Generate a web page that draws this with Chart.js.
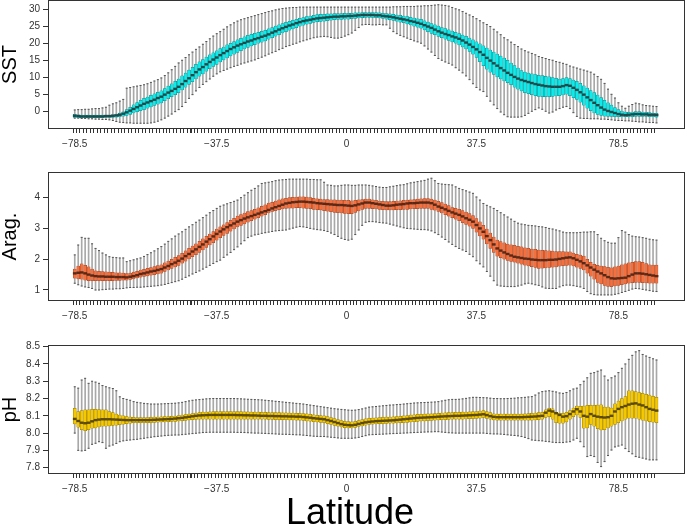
<!DOCTYPE html>
<html>
<head>
<meta charset="utf-8">
<script src="https://cdn.jsdelivr.net/npm/chart.js@4.4.1/dist/chart.umd.min.js"></script>
<style>
  body { margin: 0; background: #fff; }
  #wrap { position: relative; width: 685px; height: 530px; overflow: hidden; }
  canvas { position: absolute; left: 0; }
  #xlab { position: absolute; left: 250px; width: 200px; top: 492px; text-align: center;
          font: 36px 'Liberation Sans', Arial, sans-serif; color: #000; line-height: 40px; }
</style>
</head>
<body>
<div id="wrap">
  <canvas id="sst" width="685" height="172" style="top:0px"></canvas>
  <canvas id="arag" width="685" height="173" style="top:172px"></canvas>
  <canvas id="ph" width="685" height="200" style="top:330px"></canvas>
  <div id="xlab">Latitude</div>
</div>
<script>
/** Boxplots of SST, aragonite saturation and pH by 1-degree latitude band */

const lats = [
  -78.5, -77.5, -76.5, -75.5, -74.5, -73.5, -72.5, -71.5, -70.5, -69.5,
  -68.5, -67.5, -66.5, -65.5, -64.5, -63.5, -62.5, -61.5, -60.5, -59.5,
  -58.5, -57.5, -56.5, -55.5, -54.5, -53.5, -52.5, -51.5, -50.5, -49.5,
  -48.5, -47.5, -46.5, -45.5, -44.5, -43.5, -42.5, -41.5, -40.5, -39.5,
  -38.5, -37.5, -36.5, -35.5, -34.5, -33.5, -32.5, -31.5, -30.5, -29.5,
  -28.5, -27.5, -26.5, -25.5, -24.5, -23.5, -22.5, -21.5, -20.5, -19.5,
  -18.5, -17.5, -16.5, -15.5, -14.5, -13.5, -12.5, -11.5, -10.5, -9.5,
  -8.5, -7.5, -6.5, -5.5, -4.5, -3.5, -2.5, -1.5, -0.5, 0.5,
  1.5, 2.5, 3.5, 4.5, 5.5, 6.5, 7.5, 8.5, 9.5, 10.5,
  11.5, 12.5, 13.5, 14.5, 15.5, 16.5, 17.5, 18.5, 19.5, 20.5,
  21.5, 22.5, 23.5, 24.5, 25.5, 26.5, 27.5, 28.5, 29.5, 30.5,
  31.5, 32.5, 33.5, 34.5, 35.5, 36.5, 37.5, 38.5, 39.5, 40.5,
  41.5, 42.5, 43.5, 44.5, 45.5, 46.5, 47.5, 48.5, 49.5, 50.5,
  51.5, 52.5, 53.5, 54.5, 55.5, 56.5, 57.5, 58.5, 59.5, 60.5,
  61.5, 62.5, 63.5, 64.5, 65.5, 66.5, 67.5, 68.5, 69.5, 70.5,
  71.5, 72.5, 73.5, 74.5, 75.5, 76.5, 77.5, 78.5, 79.5, 80.5,
  81.5, 82.5, 83.5, 84.5, 85.5, 86.5, 87.5, 88.5, 89.5
];
const xTickLabels = [-78.5, -37.5, 0, 37.5, 78.5];

// SST
const sstMin = [
  -2.0, -2.0, -2.1, -2.1, -2.2, -2.2, -2.3, -2.3, -2.4, -2.4,
  -2.5, -2.7, -3.0, -3.2, -3.3, -3.4, -3.4, -3.5, -3.5, -3.5,
  -3.5, -3.5, -3.4, -3.2, -2.9, -2.5, -2.0, -1.4, -0.8, -0.1,
  0.5, 1.4, 2.6, 3.8, 4.9, 6.0, 7.0, 7.9, 8.7, 9.5,
  10.3, 11.0, 11.6, 12.0, 12.4, 12.8, 13.2, 13.5, 13.9, 14.2,
  14.5, 14.8, 15.1, 15.5, 15.9, 16.3, 16.8, 17.2, 17.6, 18.1,
  18.5, 19.0, 19.3, 19.7, 20.0, 20.4, 20.7, 21.0, 21.3, 21.6,
  21.8, 21.9, 22.0, 21.9, 21.7, 21.5, 21.5, 21.7, 22.1, 22.5,
  23.0, 23.8, 24.6, 25.4, 25.5, 25.5, 25.4, 25.4, 25.5, 25.4,
  25.4, 24.4, 23.4, 22.8, 22.3, 21.9, 21.5, 21.1, 20.7, 20.4,
  20.0, 19.2, 18.3, 17.4, 16.4, 15.5, 15.0, 14.5, 14.1, 13.6,
  12.8, 12.1, 11.3, 10.4, 9.3, 8.1, 7.0, 6.3, 5.8, 4.4,
  3.0, 1.9, 0.8, -0.2, -1.0, -1.6, -1.7, -1.7, -1.7, -1.6,
  -1.2, -0.6, 0.0, 0.5, 1.0, 0.6, 0.0, -0.5, -0.2, 0.4,
  0.8, 1.2, 1.4, 0.8, -0.4, -1.5, -2.0, -2.1, -2.1, -2.2,
  -2.2, -2.2, -2.3, -2.3, -2.4, -2.5, -2.6, -2.7, -2.7, -2.8,
  -2.8, -2.9, -3.0, -3.1, -3.1, -3.2, -3.3, -3.3, -3.4
];
const sstQ1 = [
  -1.8, -1.9, -1.9, -1.9, -1.9, -1.9, -1.9, -1.9, -1.9, -1.8,
  -1.8, -1.8, -1.7, -1.6, -1.4, -1.2, -0.9, -0.5, -0.1, 0.2,
  0.5, 0.9, 1.3, 1.7, 2.1, 2.5, 3.1, 3.7, 4.3, 4.9,
  5.5, 6.3, 7.1, 7.9, 8.7, 9.5, 10.3, 11.0, 11.8, 12.5,
  13.2, 13.8, 14.5, 15.1, 15.7, 16.3, 16.8, 17.3, 17.8, 18.3,
  18.8, 19.2, 19.6, 20.0, 20.3, 20.7, 21.2, 21.6, 22.1, 22.5,
  23.0, 23.4, 23.8, 24.2, 24.6, 25.0, 25.3, 25.6, 25.8, 26.1,
  26.3, 26.4, 26.5, 26.6, 26.8, 26.9, 27.0, 27.0, 27.1, 27.1,
  27.2, 27.3, 27.4, 27.5, 27.6, 27.6, 27.6, 27.5, 27.4, 27.3,
  27.1, 26.9, 26.7, 26.5, 26.2, 26.0, 25.7, 25.4, 25.0, 24.7,
  24.4, 23.9, 23.4, 22.9, 22.5, 22.0, 21.6, 21.2, 20.8, 20.4,
  20.0, 19.5, 18.9, 18.3, 17.6, 16.8, 15.8, 14.6, 13.4, 12.4,
  11.5, 10.8, 10.1, 9.5, 8.9, 8.4, 7.8, 7.1, 6.5, 6.0,
  5.5, 5.2, 4.9, 4.6, 4.4, 4.3, 4.3, 4.3, 4.4, 4.5,
  4.6, 4.8, 5.0, 4.6, 4.0, 3.5, 2.7, 1.8, 0.9, 0.2,
  -0.5, -0.9, -1.2, -1.4, -1.5, -1.5, -1.6, -1.6, -1.6, -1.6,
  -1.6, -1.6, -1.5, -1.5, -1.5, -1.5, -1.6, -1.6, -1.7
];
const sstMedian = [
  -1.3, -1.4, -1.5, -1.5, -1.5, -1.5, -1.5, -1.5, -1.5, -1.4,
  -1.4, -1.3, -1.2, -1.0, -0.7, -0.3, 0.2, 0.7, 1.2, 1.7,
  2.2, 2.6, 3.0, 3.4, 3.9, 4.3, 4.9, 5.5, 6.0, 6.6,
  7.2, 8.0, 8.9, 9.7, 10.6, 11.5, 12.3, 13.0, 13.8, 14.5,
  15.2, 15.8, 16.5, 17.1, 17.7, 18.3, 18.8, 19.3, 19.7, 20.1,
  20.5, 20.8, 21.2, 21.5, 21.9, 22.2, 22.6, 23.1, 23.5, 24.0,
  24.4, 24.8, 25.2, 25.5, 25.9, 26.2, 26.5, 26.7, 26.9, 27.1,
  27.3, 27.4, 27.5, 27.6, 27.7, 27.8, 27.8, 27.9, 27.9, 28.0,
  28.0, 28.1, 28.2, 28.3, 28.3, 28.3, 28.3, 28.2, 28.2, 28.0,
  27.9, 27.8, 27.6, 27.4, 27.2, 27.0, 26.8, 26.5, 26.3, 26.0,
  25.7, 25.3, 24.9, 24.5, 24.0, 23.5, 23.1, 22.7, 22.4, 22.0,
  21.7, 21.3, 20.8, 20.2, 19.6, 18.9, 18.2, 17.4, 16.6, 15.7,
  14.9, 14.1, 13.4, 12.7, 12.0, 11.3, 10.7, 10.1, 9.6, 9.2,
  8.9, 8.6, 8.3, 8.0, 7.8, 7.6, 7.4, 7.3, 7.2, 7.2,
  7.2, 7.4, 7.7, 7.5, 6.9, 6.3, 5.6, 4.9, 4.1, 3.3,
  2.5, 1.8, 1.1, 0.5, 0.1, -0.2, -0.5, -0.8, -1.0, -1.1,
  -1.0, -0.9, -0.8, -0.8, -0.9, -0.9, -1.0, -1.0, -1.1
];
const sstQ3 = [
  -0.9, -1.0, -1.1, -1.1, -1.1, -1.1, -1.1, -1.1, -1.1, -1.1,
  -1.1, -1.0, -0.8, -0.5, 0.0, 0.5, 1.2, 1.9, 2.6, 3.2,
  3.8, 4.2, 4.7, 5.1, 5.6, 6.0, 6.7, 7.4, 8.1, 8.8,
  9.5, 10.4, 11.2, 12.1, 12.9, 13.8, 14.5, 15.2, 15.9, 16.6,
  17.2, 17.8, 18.4, 18.9, 19.5, 20.0, 20.5, 21.0, 21.4, 21.9,
  22.3, 22.6, 22.9, 23.2, 23.5, 23.8, 24.2, 24.6, 25.0, 25.4,
  25.8, 26.1, 26.4, 26.7, 27.0, 27.3, 27.5, 27.8, 28.0, 28.2,
  28.4, 28.5, 28.5, 28.6, 28.6, 28.7, 28.7, 28.7, 28.8, 28.8,
  28.8, 28.9, 28.9, 29.0, 29.0, 29.0, 29.0, 29.0, 28.9, 28.8,
  28.7, 28.6, 28.5, 28.3, 28.2, 28.0, 27.8, 27.6, 27.4, 27.2,
  27.0, 26.6, 26.2, 25.8, 25.4, 25.0, 24.6, 24.3, 23.9, 23.6,
  23.2, 22.8, 22.4, 22.0, 21.5, 21.0, 20.4, 19.8, 19.2, 18.6,
  18.0, 17.4, 16.8, 16.2, 15.6, 15.0, 14.2, 13.4, 12.7, 12.0,
  11.5, 11.2, 11.0, 10.8, 10.6, 10.5, 10.3, 10.1, 9.9, 9.7,
  9.5, 9.6, 9.9, 9.6, 9.2, 8.8, 8.2, 7.5, 6.8, 6.1,
  5.5, 4.8, 4.0, 3.2, 2.5, 1.8, 1.1, 0.5, 0.1, -0.2,
  -0.3, -0.2, -0.1, -0.1, -0.2, -0.3, -0.4, -0.5, -0.6
];
const sstMax = [
  0.4, 0.5, 0.5, 0.6, 0.6, 0.7, 0.8, 0.8, 1.0, 1.2,
  1.8, 2.2, 2.5, 3.0, 3.5, 6.8, 7.0, 7.2, 7.4, 7.6,
  7.8, 8.1, 8.5, 8.9, 9.3, 9.8, 10.5, 11.3, 12.2, 13.2,
  14.2, 15.0, 15.8, 16.6, 17.4, 18.2, 18.9, 19.7, 20.5, 21.3,
  22.1, 22.8, 23.4, 24.1, 24.8, 25.4, 26.0, 26.5, 26.9, 27.2,
  27.5, 27.8, 28.1, 28.4, 28.7, 29.0, 29.3, 29.5, 29.8, 30.0,
  30.2, 30.3, 30.4, 30.5, 30.5, 30.6, 30.6, 30.6, 30.6, 30.6,
  30.6, 30.6, 30.6, 30.6, 30.6, 30.6, 30.6, 30.6, 30.6, 30.6,
  30.6, 30.6, 30.6, 30.6, 30.6, 30.6, 30.6, 30.6, 30.6, 30.6,
  30.6, 30.6, 30.7, 30.7, 30.7, 30.8, 30.8, 30.8, 30.8, 30.9,
  30.9, 31.0, 31.0, 31.1, 31.2, 31.3, 31.2, 31.1, 30.9, 30.5,
  30.1, 29.8, 29.3, 28.8, 28.3, 27.8, 27.2, 26.6, 26.0, 25.5,
  24.9, 24.1, 23.3, 22.5, 21.6, 21.0, 20.3, 19.6, 19.0, 18.3,
  17.8, 17.4, 17.0, 16.6, 16.1, 15.8, 15.5, 15.2, 15.0, 14.6,
  14.4, 14.1, 13.8, 13.3, 13.0, 12.7, 12.4, 12.1, 11.8, 11.5,
  10.9, 10.2, 9.4, 8.2, 6.5, 5.0, 3.9, 2.5, 1.5, 0.9,
  1.5, 2.0, 2.4, 2.2, 1.9, 1.7, 1.6, 1.5, 1.4
];

// Aragonite saturation
const aragMin = [
  1.22, 1.17, 1.13, 1.10, 1.08, 1.05, 1.00, 1.00, 1.01, 1.02,
  1.03, 1.03, 1.04, 1.04, 1.05, 1.07, 1.08, 1.08, 1.09, 1.09,
  1.10, 1.11, 1.12, 1.13, 1.14, 1.16, 1.18, 1.21, 1.24, 1.27,
  1.30, 1.35, 1.41, 1.46, 1.52, 1.57, 1.62, 1.68, 1.74, 1.80,
  1.86, 1.92, 1.97, 2.06, 2.14, 2.22, 2.31, 2.40, 2.50, 2.60,
  2.70, 2.75, 2.79, 2.81, 2.84, 2.86, 2.88, 2.90, 2.92, 2.93,
  2.94, 2.95, 2.98, 3.01, 3.04, 3.06, 3.05, 3.03, 3.00, 2.98,
  2.96, 2.95, 2.93, 2.90, 2.85, 2.80, 2.74, 2.68, 2.64, 2.62,
  2.65, 2.80, 2.95, 3.10, 3.20, 3.22, 3.22, 3.21, 3.19, 3.18,
  3.17, 3.14, 3.11, 3.08, 3.05, 3.02, 3.00, 2.99, 2.98, 2.97,
  2.96, 2.96, 2.95, 2.92, 2.86, 2.80, 2.72, 2.64, 2.56, 2.48,
  2.41, 2.35, 2.30, 2.25, 2.16, 2.08, 1.95, 1.85, 1.75, 1.60,
  1.45, 1.30, 1.16, 1.13, 1.12, 1.11, 1.11, 1.11, 1.13, 1.16,
  1.20, 1.22, 1.20, 1.17, 1.15, 1.10, 1.06, 1.05, 1.05, 1.05,
  1.10, 1.14, 1.16, 1.16, 1.14, 1.12, 1.10, 1.05, 0.95, 0.88,
  0.85, 0.84, 0.84, 0.84, 0.84, 0.84, 0.86, 0.88, 0.92, 0.95,
  0.99, 1.03, 1.05, 1.04, 1.02, 1.00, 0.98, 0.96, 0.95
];
const aragQ1 = [
  1.38, 1.36, 1.35, 1.32, 1.30, 1.30, 1.30, 1.30, 1.30, 1.30,
  1.30, 1.30, 1.31, 1.31, 1.32, 1.32, 1.34, 1.36, 1.39, 1.42,
  1.44, 1.46, 1.48, 1.50, 1.52, 1.55, 1.60, 1.65, 1.70, 1.75,
  1.80, 1.87, 1.94, 2.01, 2.08, 2.15, 2.22, 2.30, 2.38, 2.46,
  2.54, 2.62, 2.70, 2.77, 2.84, 2.91, 2.98, 3.05, 3.10, 3.15,
  3.20, 3.25, 3.30, 3.35, 3.40, 3.45, 3.50, 3.55, 3.58, 3.61,
  3.63, 3.65, 3.66, 3.66, 3.67, 3.67, 3.66, 3.65, 3.64, 3.62,
  3.61, 3.60, 3.58, 3.56, 3.54, 3.52, 3.51, 3.50, 3.49, 3.48,
  3.48, 3.52, 3.57, 3.62, 3.65, 3.65, 3.64, 3.63, 3.62, 3.61,
  3.60, 3.60, 3.60, 3.61, 3.61, 3.62, 3.62, 3.63, 3.64, 3.64,
  3.65, 3.65, 3.65, 3.62, 3.59, 3.55, 3.50, 3.45, 3.40, 3.35,
  3.30, 3.25, 3.19, 3.13, 3.07, 3.00, 2.88, 2.76, 2.65, 2.50,
  2.35, 2.22, 2.10, 2.05, 2.00, 1.96, 1.93, 1.90, 1.87, 1.84,
  1.81, 1.78, 1.76, 1.73, 1.70, 1.71, 1.72, 1.73, 1.74, 1.75,
  1.77, 1.79, 1.80, 1.81, 1.78, 1.74, 1.70, 1.65, 1.55, 1.45,
  1.35, 1.25, 1.20, 1.15, 1.12, 1.11, 1.13, 1.15, 1.17, 1.20,
  1.22, 1.24, 1.25, 1.25, 1.24, 1.23, 1.22, 1.22, 1.22
];
const aragMedian = [
  1.54, 1.56, 1.57, 1.54, 1.50, 1.47, 1.45, 1.44, 1.44, 1.43,
  1.43, 1.43, 1.42, 1.42, 1.42, 1.41, 1.43, 1.45, 1.48, 1.52,
  1.54, 1.57, 1.60, 1.62, 1.65, 1.68, 1.73, 1.78, 1.84, 1.89,
  1.95, 2.02, 2.10, 2.17, 2.25, 2.32, 2.40, 2.48, 2.57, 2.65,
  2.74, 2.82, 2.90, 2.97, 3.04, 3.10, 3.16, 3.22, 3.27, 3.32,
  3.36, 3.40, 3.44, 3.48, 3.52, 3.56, 3.60, 3.65, 3.69, 3.73,
  3.77, 3.81, 3.83, 3.85, 3.86, 3.87, 3.87, 3.86, 3.85, 3.84,
  3.82, 3.81, 3.80, 3.79, 3.78, 3.77, 3.76, 3.76, 3.75, 3.74,
  3.73, 3.75, 3.78, 3.81, 3.84, 3.84, 3.82, 3.80, 3.78, 3.76,
  3.74, 3.74, 3.75, 3.77, 3.78, 3.79, 3.81, 3.82, 3.82, 3.83,
  3.84, 3.84, 3.84, 3.82, 3.77, 3.71, 3.67, 3.62, 3.57, 3.52,
  3.48, 3.44, 3.39, 3.33, 3.28, 3.22, 3.11, 3.00, 2.89, 2.75,
  2.62, 2.48, 2.35, 2.28, 2.22, 2.17, 2.12, 2.08, 2.06, 2.04,
  2.02, 2.01, 1.99, 1.98, 1.97, 1.97, 1.97, 1.98, 1.98, 1.99,
  2.01, 2.03, 2.05, 2.06, 2.03, 1.98, 1.93, 1.87, 1.80, 1.73,
  1.66, 1.60, 1.54, 1.48, 1.42, 1.38, 1.37, 1.38, 1.39, 1.40,
  1.45, 1.50, 1.54, 1.54, 1.53, 1.51, 1.49, 1.47, 1.45
];
const aragQ3 = [
  1.68, 1.78, 1.85, 1.80, 1.75, 1.68, 1.62, 1.61, 1.60, 1.59,
  1.58, 1.57, 1.56, 1.56, 1.55, 1.53, 1.55, 1.58, 1.61, 1.65,
  1.67, 1.70, 1.73, 1.76, 1.79, 1.82, 1.88, 1.94, 2.00, 2.06,
  2.12, 2.19, 2.27, 2.35, 2.43, 2.50, 2.58, 2.66, 2.74, 2.82,
  2.90, 2.98, 3.05, 3.12, 3.19, 3.26, 3.33, 3.40, 3.45, 3.50,
  3.55, 3.58, 3.62, 3.67, 3.72, 3.77, 3.82, 3.85, 3.89, 3.93,
  3.96, 3.98, 4.00, 4.01, 4.02, 4.03, 4.03, 4.02, 4.00, 3.98,
  3.96, 3.95, 3.94, 3.94, 3.93, 3.93, 3.92, 3.92, 3.91, 3.91,
  3.90, 3.91, 3.93, 3.94, 3.95, 3.95, 3.93, 3.91, 3.89, 3.88,
  3.87, 3.87, 3.88, 3.89, 3.90, 3.91, 3.92, 3.93, 3.94, 3.95,
  3.96, 3.97, 3.97, 3.95, 3.92, 3.88, 3.84, 3.79, 3.74, 3.68,
  3.65, 3.62, 3.58, 3.53, 3.48, 3.42, 3.32, 3.21, 3.10, 2.98,
  2.85, 2.72, 2.62, 2.57, 2.53, 2.49, 2.47, 2.45, 2.42, 2.40,
  2.37, 2.35, 2.33, 2.32, 2.30, 2.29, 2.28, 2.27, 2.26, 2.25,
  2.25, 2.25, 2.24, 2.24, 2.20, 2.16, 2.13, 2.10, 2.00, 1.90,
  1.83, 1.80, 1.78, 1.76, 1.74, 1.72, 1.75, 1.78, 1.82, 1.85,
  1.88, 1.90, 1.92, 1.92, 1.90, 1.86, 1.82, 1.81, 1.81
];
const aragMax = [
  2.14, 2.46, 2.71, 2.68, 2.68, 2.50, 2.35, 2.28, 2.20, 2.14,
  2.08, 2.06, 2.05, 2.04, 2.04, 1.92, 1.95, 1.98, 2.01, 2.04,
  2.09, 2.15, 2.21, 2.27, 2.34, 2.41, 2.49, 2.58, 2.66, 2.75,
  2.82, 2.89, 2.97, 3.05, 3.12, 3.20, 3.27, 3.35, 3.43, 3.51,
  3.58, 3.65, 3.72, 3.76, 3.80, 3.84, 3.88, 3.92, 4.00, 4.08,
  4.16, 4.24, 4.30, 4.38, 4.46, 4.48, 4.50, 4.52, 4.55, 4.57,
  4.58, 4.59, 4.60, 4.60, 4.60, 4.60, 4.60, 4.60, 4.59, 4.59,
  4.58, 4.58, 4.50, 4.41, 4.40, 4.38, 4.38, 4.40, 4.41, 4.41,
  4.40, 4.40, 4.41, 4.41, 4.41, 4.40, 4.38, 4.36, 4.34, 4.33,
  4.33, 4.35, 4.37, 4.39, 4.41, 4.42, 4.45, 4.48, 4.50, 4.52,
  4.54, 4.56, 4.60, 4.63, 4.55, 4.46, 4.44, 4.43, 4.42, 4.41,
  4.35, 4.30, 4.26, 4.22, 4.18, 4.14, 4.02, 3.92, 3.81, 3.75,
  3.70, 3.65, 3.58, 3.51, 3.44, 3.37, 3.30, 3.23, 3.17, 3.14,
  3.12, 3.10, 3.09, 3.08, 3.06, 3.05, 3.03, 3.00, 2.98, 2.95,
  2.92, 2.88, 2.86, 2.86, 2.86, 2.86, 2.87, 2.88, 2.88, 2.89,
  2.89, 2.80, 2.68, 2.60, 2.55, 2.52, 2.52, 2.70, 2.93, 2.88,
  2.80, 2.75, 2.73, 2.72, 2.70, 2.68, 2.65, 2.63, 2.62
];

// pH
const phMin = [
  8.000, 7.900, 7.897, 7.900, 7.912, 7.935, 7.941, 7.950, 7.945, 7.912,
  7.925, 7.931, 7.940, 7.950, 7.955, 7.958, 7.960, 7.962, 7.964, 7.967,
  7.970, 7.973, 7.976, 7.979, 7.981, 7.983, 7.985, 7.987, 7.988, 7.989,
  7.989, 7.991, 7.993, 7.995, 7.997, 7.999, 8.001, 8.003, 8.004, 8.005,
  8.005, 8.005, 8.005, 8.005, 8.005, 8.005, 8.005, 8.004, 8.004, 8.003,
  8.002, 8.001, 8.000, 8.000, 7.999, 7.998, 7.997, 7.996, 7.995, 7.994,
  7.993, 7.993, 7.992, 7.991, 7.990, 7.990, 7.988, 7.986, 7.984, 7.982,
  7.981, 7.980, 7.980, 7.978, 7.976, 7.974, 7.972, 7.970, 7.970, 7.970,
  7.970, 7.972, 7.975, 7.980, 7.985, 7.990, 7.991, 7.992, 7.993, 7.994,
  7.995, 7.996, 7.997, 7.998, 7.999, 8.000, 8.001, 8.002, 8.003, 8.004,
  8.005, 8.006, 8.007, 8.007, 8.008, 8.008, 8.006, 8.004, 8.002, 8.001,
  8.000, 8.000, 8.000, 8.000, 8.000, 8.000, 8.000, 8.000, 8.000, 7.998,
  7.996, 7.995, 7.995, 7.994, 7.992, 7.990, 7.988, 7.986, 7.984, 7.980,
  7.975, 7.968, 7.960, 7.958, 7.956, 7.955, 7.952, 7.950, 7.947, 7.945,
  7.945, 7.945, 7.948, 7.950, 7.960, 7.970, 7.950, 7.921, 7.864, 7.870,
  7.864, 7.830, 7.806, 7.835, 7.870, 7.902, 7.920, 7.925, 7.931, 7.910,
  7.893, 7.880, 7.864, 7.860, 7.855, 7.850, 7.845, 7.845, 7.845
];
const phQ1 = [
  8.053, 8.034, 8.020, 8.014, 8.020, 8.028, 8.030, 8.035, 8.040, 8.040,
  8.042, 8.044, 8.046, 8.048, 8.052, 8.055, 8.058, 8.060, 8.060, 8.060,
  8.060, 8.060, 8.061, 8.062, 8.063, 8.064, 8.065, 8.066, 8.067, 8.068,
  8.070, 8.072, 8.074, 8.076, 8.078, 8.079, 8.080, 8.080, 8.080, 8.080,
  8.080, 8.080, 8.080, 8.080, 8.080, 8.080, 8.080, 8.080, 8.080, 8.080,
  8.080, 8.080, 8.080, 8.080, 8.080, 8.080, 8.079, 8.079, 8.078, 8.078,
  8.077, 8.077, 8.076, 8.076, 8.075, 8.075, 8.073, 8.071, 8.069, 8.066,
  8.064, 8.062, 8.060, 8.055, 8.050, 8.045, 8.040, 8.035, 8.032, 8.030,
  8.030, 8.033, 8.038, 8.042, 8.046, 8.050, 8.052, 8.053, 8.054, 8.055,
  8.056, 8.057, 8.058, 8.059, 8.060, 8.060, 8.062, 8.064, 8.066, 8.068,
  8.070, 8.071, 8.072, 8.073, 8.075, 8.076, 8.077, 8.078, 8.079, 8.080,
  8.080, 8.080, 8.081, 8.082, 8.083, 8.084, 8.085, 8.087, 8.090, 8.085,
  8.080, 8.076, 8.075, 8.075, 8.075, 8.075, 8.075, 8.075, 8.075, 8.075,
  8.075, 8.075, 8.075, 8.076, 8.078, 8.080, 8.090, 8.095, 8.080, 8.060,
  8.057, 8.057, 8.065, 8.080, 8.095, 8.105, 8.090, 8.028, 8.030, 8.050,
  8.040, 8.025, 8.018, 8.020, 8.030, 8.040, 8.050, 8.060, 8.070, 8.080,
  8.086, 8.086, 8.086, 8.080, 8.075, 8.070, 8.066, 8.063, 8.060
];
const phMedian = [
  8.082, 8.070, 8.060, 8.057, 8.060, 8.068, 8.075, 8.078, 8.080, 8.080,
  8.080, 8.079, 8.078, 8.077, 8.076, 8.075, 8.075, 8.075, 8.075, 8.075,
  8.075, 8.075, 8.076, 8.077, 8.078, 8.079, 8.080, 8.081, 8.082, 8.084,
  8.086, 8.088, 8.091, 8.094, 8.097, 8.100, 8.102, 8.103, 8.104, 8.105,
  8.105, 8.105, 8.105, 8.105, 8.105, 8.105, 8.105, 8.104, 8.104, 8.103,
  8.103, 8.102, 8.102, 8.101, 8.100, 8.100, 8.099, 8.099, 8.098, 8.098,
  8.097, 8.097, 8.096, 8.096, 8.095, 8.095, 8.093, 8.091, 8.089, 8.086,
  8.084, 8.082, 8.080, 8.075, 8.070, 8.064, 8.058, 8.052, 8.048, 8.046,
  8.045, 8.048, 8.053, 8.058, 8.062, 8.065, 8.067, 8.069, 8.070, 8.071,
  8.072, 8.073, 8.074, 8.076, 8.078, 8.080, 8.082, 8.084, 8.086, 8.088,
  8.089, 8.090, 8.091, 8.092, 8.093, 8.095, 8.096, 8.097, 8.098, 8.099,
  8.100, 8.100, 8.101, 8.102, 8.103, 8.104, 8.105, 8.107, 8.109, 8.104,
  8.098, 8.094, 8.092, 8.092, 8.092, 8.092, 8.092, 8.092, 8.092, 8.092,
  8.093, 8.094, 8.095, 8.096, 8.098, 8.100, 8.118, 8.130, 8.125, 8.115,
  8.105, 8.095, 8.098, 8.110, 8.125, 8.138, 8.125, 8.100, 8.095, 8.110,
  8.100, 8.095, 8.092, 8.090, 8.092, 8.100, 8.125, 8.140, 8.150, 8.157,
  8.165, 8.170, 8.172, 8.165, 8.160, 8.150, 8.140, 8.135, 8.130
];
const phQ3 = [
  8.143, 8.124, 8.130, 8.134, 8.134, 8.138, 8.138, 8.136, 8.134, 8.134,
  8.125, 8.118, 8.110, 8.104, 8.100, 8.096, 8.093, 8.091, 8.090, 8.090,
  8.090, 8.090, 8.091, 8.092, 8.093, 8.094, 8.095, 8.096, 8.097, 8.099,
  8.101, 8.104, 8.107, 8.110, 8.113, 8.116, 8.119, 8.121, 8.122, 8.123,
  8.124, 8.124, 8.125, 8.125, 8.125, 8.125, 8.125, 8.124, 8.124, 8.123,
  8.123, 8.122, 8.122, 8.121, 8.120, 8.120, 8.119, 8.119, 8.118, 8.118,
  8.117, 8.117, 8.116, 8.116, 8.115, 8.115, 8.113, 8.111, 8.108, 8.105,
  8.103, 8.101, 8.100, 8.095, 8.090, 8.084, 8.078, 8.072, 8.068, 8.066,
  8.065, 8.068, 8.073, 8.078, 8.082, 8.085, 8.087, 8.089, 8.090, 8.091,
  8.092, 8.093, 8.094, 8.095, 8.097, 8.100, 8.102, 8.104, 8.106, 8.108,
  8.109, 8.110, 8.111, 8.112, 8.113, 8.115, 8.116, 8.117, 8.118, 8.119,
  8.120, 8.120, 8.121, 8.122, 8.123, 8.124, 8.125, 8.127, 8.130, 8.125,
  8.118, 8.112, 8.110, 8.110, 8.110, 8.110, 8.110, 8.110, 8.110, 8.110,
  8.111, 8.113, 8.115, 8.116, 8.118, 8.120, 8.135, 8.143, 8.140, 8.120,
  8.115, 8.115, 8.120, 8.130, 8.145, 8.157, 8.155, 8.157, 8.160, 8.160,
  8.160, 8.162, 8.163, 8.150, 8.150, 8.145, 8.170, 8.185, 8.200, 8.211,
  8.245, 8.245, 8.240, 8.235, 8.230, 8.225, 8.220, 8.213, 8.207
];
const phMax = [
  8.268, 8.260, 8.307, 8.317, 8.288, 8.300, 8.295, 8.288, 8.275, 8.268,
  8.262, 8.258, 8.245, 8.210, 8.200, 8.195, 8.190, 8.182, 8.178, 8.175,
  8.172, 8.170, 8.168, 8.168, 8.168, 8.169, 8.170, 8.171, 8.172, 8.173,
  8.175, 8.178, 8.182, 8.186, 8.190, 8.192, 8.194, 8.196, 8.198, 8.199,
  8.200, 8.200, 8.200, 8.200, 8.200, 8.200, 8.200, 8.199, 8.198, 8.197,
  8.196, 8.195, 8.194, 8.193, 8.192, 8.190, 8.188, 8.186, 8.184, 8.182,
  8.180, 8.178, 8.176, 8.174, 8.172, 8.170, 8.168, 8.165, 8.162, 8.159,
  8.156, 8.153, 8.150, 8.147, 8.144, 8.141, 8.139, 8.137, 8.135, 8.133,
  8.132, 8.133, 8.136, 8.140, 8.145, 8.150, 8.152, 8.154, 8.156, 8.158,
  8.160, 8.162, 8.163, 8.165, 8.166, 8.168, 8.170, 8.172, 8.174, 8.175,
  8.176, 8.177, 8.178, 8.179, 8.180, 8.182, 8.186, 8.190, 8.193, 8.195,
  8.195, 8.196, 8.198, 8.201, 8.204, 8.207, 8.207, 8.206, 8.205, 8.204,
  8.202, 8.200, 8.200, 8.199, 8.199, 8.200, 8.201, 8.202, 8.204, 8.205,
  8.207, 8.209, 8.211, 8.220, 8.232, 8.240, 8.243, 8.245, 8.242, 8.238,
  8.232, 8.230, 8.235, 8.245, 8.255, 8.260, 8.280, 8.300, 8.320, 8.346,
  8.350, 8.358, 8.365, 8.330, 8.307, 8.320, 8.330, 8.350, 8.375, 8.400,
  8.427, 8.450, 8.470, 8.477, 8.455, 8.446, 8.438, 8.430, 8.423
];

const frame = {
  id: 'frame',
  afterDraw(chart) {
    const a = chart.chartArea, ctx = chart.ctx;
    ctx.save();
    ctx.strokeStyle = '#333';
    ctx.lineWidth = 1;
    ctx.strokeRect(a.left - 0.5, a.top - 0.5, a.right - a.left + 1, a.bottom - a.top + 1);
    ctx.restore();
  }
};

function pairs(a, b) {
  return lats.map((x, i) => ({ x: x, y: b ? [a[i], b[i]] : a[i] }));
}

function drawPanel(id, stats, look, yAxis, padTop) {
  const canvas = document.getElementById(id);
  const H = canvas.height;
  const xHeight = H - padTop - 127;
  return new Chart(canvas, {
    type: 'bar',
    data: {
      datasets: [
        { type: 'line', data: pairs(stats[2]), showLine: false, pointStyle: 'line',
          pointRadius: 1.9, pointBorderWidth: 2.4, pointBorderColor: look.median, order: 0 },
        { type: 'bar', data: pairs(stats[1], stats[3]), grouped: false, barThickness: 3,
          backgroundColor: look.fill, borderColor: look.edge, borderWidth: 0.5,
          borderSkipped: false, order: 1 },
        { type: 'line', data: pairs(stats[4]), showLine: false, pointStyle: 'line',
          pointRadius: 1, pointBorderWidth: 1, pointBorderColor: '#555', order: 2 },
        { type: 'line', data: pairs(stats[0]), showLine: false, pointStyle: 'line',
          pointRadius: 1, pointBorderWidth: 1, pointBorderColor: '#555', order: 2 },
        { type: 'bar', data: pairs(stats[0], stats[4]), grouped: false, barThickness: 1,
          backgroundColor: '#a8a8a8', order: 3 }
      ]
    },
    options: {
      responsive: false,
      animation: false,
      layout: { autoPadding: false, padding: { top: padTop, right: 1, left: 0, bottom: 0 } },
      plugins: { legend: { display: false }, tooltip: { enabled: false } },
      scales: {
        x: {
          type: 'linear',
          min: -85.4,
          max: 96.9,
          afterBuildTicks: s => { s.ticks = lats.concat([0]).map(v => ({ value: v })); },
          afterFit: s => { s.height = xHeight; s.paddingLeft = 0; s.paddingRight = 0; },
          border: { display: false },
          grid: {
            drawOnChartArea: false, drawTicks: true, tickLength: 5,
            tickColor: c => (c.tick && c.tick.value === 0) ? 'rgba(0,0,0,0)' : '#333'
          },
          ticks: {
            autoSkip: false, maxRotation: 0, padding: 5, color: '#333',
            font: { family: 'Liberation Sans', size: 10 },
            callback: v => xTickLabels.includes(v) ? String(v).replace('-', '\u2212') : ''
          }
        },
        y: {
          min: yAxis.min,
          max: yAxis.max,
          afterFit: s => { s.width = 49; s.paddingTop = 0; s.paddingBottom = 0; },
          border: { display: false },
          grid: { drawOnChartArea: false, drawTicks: true, tickLength: 6, tickColor: '#333' },
          ticks: {
            stepSize: yAxis.step, includeBounds: false, padding: 3, color: '#333',
            font: { family: 'Liberation Sans', size: 10 },
            callback: v => yAxis.fmt(v)
          },
          title: {
            display: true, text: yAxis.title, color: '#000',
            font: { family: 'Liberation Sans', size: 20, lineHeight: 1 },
            padding: { top: 0, bottom: 0 }
          }
        }
      }
    },
    plugins: [frame]
  });
}

drawPanel('sst', [sstMin, sstQ1, sstMedian, sstQ3, sstMax],
  { fill: '#0cecec', edge: '#1a7f7f', median: '#1d4a4a' },
  { min: -4.9, max: 32.4, step: 5, title: 'SST', fmt: v => String(v) }, 1);

drawPanel('arag', [aragMin, aragQ1, aragMedian, aragQ3, aragMax],
  { fill: '#f4703f', edge: '#9a4322', median: '#5a2816' },
  { min: 0.675, max: 4.8, step: 1, title: 'Arag.', fmt: v => String(v) }, 1);

drawPanel('ph', [phMin, phQ1, phMedian, phQ3, phMax],
  { fill: '#f5c800', edge: '#8f7500', median: '#5b4a00' },
  { min: 7.769, max: 8.504, step: 0.1, title: 'pH', fmt: v => v.toFixed(1) }, 16);
</script>
</body>
</html>
